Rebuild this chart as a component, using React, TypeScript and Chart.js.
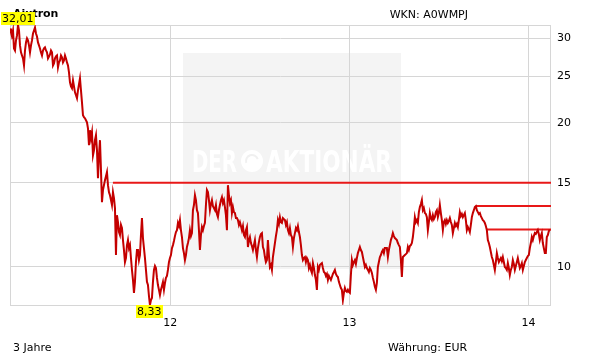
import React, { useEffect, useRef } from "react";
import { Chart, registerables } from "chart.js";

Chart.register(...registerables);

// ---- texts ----
const titleText = "Aixtron";
const wknText = "WKN: A0WMPJ";
const periodText = "3 Jahre";
const currencyText = "Währung: EUR";
const watermarkLeft = "DER";
const watermarkRight = "AKTIONÄR";

// ---- time base (one sample every ~2 calendar days) ----
const startDate = "2011-02-08";
const stepDays = 2.04;
const endDays = 1104;

// ---- price series (EUR) ----
const prices = [
  31.48, 30.88, 30.44, 31.18, 28.6, 28.32, 29.72, 30.44, 32.01, 31.18,
  29.02, 28.06, 27.65, 27.26, 26.36, 28.32, 29.44, 30.01, 29.72, 29.02,
  28.06, 29.02, 29.72, 30.73, 31.18, 31.63, 30.73, 30.29, 29.44, 29.02,
  28.6, 28.06, 27.65, 28.32, 28.6, 28.74, 28.32, 28.06, 27.26, 27.52,
  27.79, 28.32, 28.06, 26.36, 26.62, 27.26, 27.52, 27.65, 26.11, 26.74,
  27.0, 27.65, 27.39, 26.74, 27.0, 27.65, 27.26, 26.74, 26.36, 25.48,
  24.3, 23.83, 23.61, 24.53, 23.83, 23.16, 22.83, 22.5, 23.38, 24.06,
  24.77, 23.38, 22.07, 20.74, 20.54, 20.44, 20.25, 20.05, 19.48, 17.96,
  19.3, 18.57, 19.11, 17.11, 17.53, 18.4, 18.84, 17.53, 15.33, 17.11,
  18.4, 15.93, 13.66, 14.47, 14.82, 15.18, 15.47, 15.78, 14.82, 14.33,
  14.12, 13.79, 13.47, 14.33, 13.93, 13.27, 10.59, 12.83, 12.41, 11.83,
  11.66, 12.24, 12.06, 11.38, 10.85, 10.24, 10.44, 11.11, 11.38, 10.95,
  11.11, 10.44, 9.86, 9.4, 8.83, 9.31, 10.24, 10.85, 10.85, 10.34,
  10.59, 11.66, 12.65, 11.49, 10.95, 10.44, 9.86, 9.31, 9.17, 8.7,
  8.33, 8.53, 8.62, 9.31, 9.86, 10.05, 9.95, 9.49, 9.17, 8.96,
  8.74, 8.96, 9.13, 9.31, 8.96, 9.26, 9.49, 9.58, 9.86, 10.24,
  10.44, 10.59, 10.95, 11.11, 11.33, 11.6, 11.83, 11.94, 12.36, 12.18,
  12.53, 11.94, 11.55, 10.95, 10.69, 10.34, 10.59, 11.01, 11.22, 11.49,
  11.94, 11.6, 11.77, 13.14, 13.47, 14.12, 13.79, 13.14, 12.96, 11.94,
  10.85, 11.66, 12.12, 11.94, 12.18, 12.36, 13.47, 14.47, 14.33, 13.79,
  13.14, 13.53, 13.79, 13.4, 13.27, 13.14, 13.47, 12.9, 12.71, 13.14,
  13.47, 13.79, 13.99, 13.6, 13.79, 13.34, 12.83, 11.94, 14.82, 14.12,
  13.6, 13.79, 12.96, 13.34, 13.02, 12.96, 12.65, 12.65, 12.53, 12.24,
  12.41, 12.18, 11.94, 12.18, 11.66, 11.55, 11.94, 12.12, 11.01, 11.38,
  11.55, 11.22, 11.06, 10.85, 11.11, 11.38, 10.85, 10.49, 10.95, 11.27,
  11.55, 11.72, 11.77, 11.01, 10.85, 10.49, 10.24, 10.34, 11.38, 10.59,
  10.0, 10.1, 9.86, 10.49, 10.85, 11.22, 11.6, 11.94, 12.53, 12.3,
  12.71, 12.41, 12.36, 12.65, 12.59, 12.53, 12.24, 12.41, 11.94, 11.77,
  12.06, 11.66, 11.55, 11.01, 11.49, 11.77, 12.06, 11.94, 12.18, 11.83,
  11.55, 11.11, 10.59, 10.34, 10.44, 10.49, 10.24, 10.44, 10.34, 9.95,
  10.1, 9.86, 9.72, 10.19, 9.95, 9.62, 9.4, 8.96, 10.0, 9.86,
  10.1, 10.15, 10.19, 9.95, 9.76, 9.72, 9.58, 9.67, 9.4, 9.58,
  9.49, 9.4, 9.53, 9.67, 9.76, 9.86, 9.67, 9.58, 9.53, 9.31,
  9.17, 9.04, 8.96, 8.53, 8.83, 9.04, 8.91, 8.87, 8.96, 8.87,
  8.83, 9.62, 10.34, 10.1, 10.24, 10.34, 10.15, 10.44, 10.69, 10.85,
  11.01, 10.85, 10.75, 10.49, 10.24, 10.0, 10.1, 9.95, 9.86, 9.76,
  9.95, 9.86, 9.72, 9.49, 9.31, 9.09, 8.96, 9.26, 10.0, 10.24,
  10.49, 10.59, 10.75, 10.85, 10.69, 10.95, 10.95, 10.95, 10.49, 10.85,
  11.11, 11.38, 11.55, 11.77, 11.6, 11.49, 11.44, 11.38, 11.22, 11.11,
  11.01, 10.34, 9.53, 10.49, 10.54, 10.59, 10.64, 10.69, 11.01, 10.85,
  11.06, 11.11, 11.22, 11.55, 12.06, 12.71, 12.41, 12.53, 12.36, 13.02,
  13.34, 13.53, 13.79, 13.14, 13.27, 12.96, 12.9, 12.71, 11.94, 12.41,
  12.96, 12.65, 12.53, 12.83, 12.59, 12.71, 13.02, 13.14, 12.71, 12.96,
  13.47, 12.96, 12.53, 11.94, 12.41, 12.53, 12.3, 12.53, 12.36, 12.47,
  12.65, 12.41, 12.24, 11.77, 12.06, 12.36, 12.18, 12.3, 12.12, 12.53,
  13.02, 12.77, 12.9, 12.71, 12.83, 12.96, 12.53, 11.94, 12.12, 12.0,
  11.83, 12.24, 12.71, 12.96, 13.14, 13.34, 13.4, 13.14, 13.02, 12.9,
  12.96, 12.77, 12.65, 12.53, 12.47, 12.36, 12.18, 11.94, 11.38, 11.22,
  11.01, 10.75, 10.49, 10.34, 10.1, 9.86, 10.24, 10.69, 10.44, 10.24,
  10.34, 10.44, 10.29, 10.49, 10.24, 10.0, 9.95, 9.86, 10.19, 9.95,
  9.62, 9.86, 10.0, 10.34, 10.15, 9.86, 10.05, 10.24, 10.44, 10.19,
  9.95, 10.05, 10.19, 9.86, 10.05, 10.24, 10.34, 10.44, 10.54, 10.59,
  10.95, 11.22, 11.55, 11.38, 11.6, 11.77, 11.72, 11.83, 11.94, 11.72,
  11.38, 11.6, 11.77, 11.22, 10.95, 10.69, 10.69, 11.55, 11.66, 11.88,
  11.98,
];

// ---- axes ----
const yTicks = [10, 15, 20, 25, 30];
const yMin = 8.33;
const yMax = 32.01;
const yearStarts = ["2012-01-01", "2013-01-01", "2014-01-01"];
const yearLabels = ["12", "13", "14"];

// ---- horizontal marker lines ----
const levelValues = [15.0, 13.4, 11.98];
const levelStartDays = [210, 951, 973];

const FONT = "DejaVu Sans";
const GRID = "#d6d6d6";

const dayOf = (d: string) =>
  (Date.parse(d + "T00:00:00Z") - Date.parse(startDate + "T00:00:00Z")) / 86400000;
const yearDays = yearStarts.map(dayOf);
const fmt = (v: number) => v.toFixed(2).replace(".", ",");

const decorPlugin = {
  id: "decor",
  beforeDraw(chart: any) {
    const ctx = chart.ctx;
    ctx.save();
    ctx.fillStyle = "#ffffff";
    ctx.fillRect(0, 0, chart.width, chart.height);

    // watermark
    ctx.fillStyle = "#f4f4f4";
    ctx.fillRect(183, 53, 218, 216);
    ctx.fillStyle = "#ffffff";
    ctx.font = `bold 30px "${FONT}"`;
    ctx.textBaseline = "alphabetic";
    const drawFit = (t: string, x0: number, x1: number) => {
      const w = ctx.measureText(t).width;
      ctx.save();
      ctx.translate(x0, 172);
      ctx.scale((x1 - x0) / w, 1);
      ctx.fillText(t, 0, 0);
      ctx.restore();
    };
    drawFit(watermarkLeft, 192, 237);
    drawFit(watermarkRight, 266, 392);
    ctx.beginPath();
    ctx.arc(252, 161, 11, 0, Math.PI * 2);
    ctx.fill();
    ctx.strokeStyle = "#f0f0f0";
    ctx.lineWidth = 2;
    ctx.beginPath();
    ctx.arc(252, 161, 6, Math.PI * 0.9, Math.PI * 1.9);
    ctx.stroke();

    // texts
    ctx.fillStyle = "#000000";
    ctx.font = `bold 11px "${FONT}"`;
    ctx.textAlign = "left";
    ctx.fillText(titleText, 13, 17);
    ctx.font = `11px "${FONT}"`;
    ctx.textAlign = "right";
    ctx.fillText(wknText, 468, 18);
    ctx.textAlign = "left";
    ctx.fillText(periodText, 13, 351);
    ctx.fillText(currencyText, 388, 351);
    ctx.restore();
  },
  beforeDatasetsDraw(chart: any) {
    const { ctx, chartArea } = chart;
    ctx.save();
    ctx.strokeStyle = GRID;
    ctx.lineWidth = 1;
    ctx.strokeRect(
      Math.round(chartArea.left) + 0.5,
      Math.round(chartArea.top) + 0.5,
      Math.round(chartArea.right - chartArea.left) - 1,
      Math.round(chartArea.bottom - chartArea.top)
    );
    ctx.restore();
  },
  afterDatasetsDraw(chart: any) {
    const ctx = chart.ctx;
    const xs = chart.scales.x;
    const ys = chart.scales.y;
    let iMax = 0;
    let iMin = 0;
    prices.forEach((p, i) => {
      if (p > prices[iMax]) iMax = i;
      if (p < prices[iMin]) iMin = i;
    });
    ctx.save();
    ctx.font = `11px "${FONT}"`;
    ctx.textBaseline = "middle";
    ctx.textAlign = "left";
    const box = (i: number, above: boolean) => {
      const px = xs.getPixelForValue(i * stepDays);
      const py = ys.getPixelForValue(prices[i]);
      const t = fmt(prices[i]);
      const w = Math.ceil(ctx.measureText(t).width) + 2;
      const h = 12;
      let bx = Math.round(px - w / 2);
      if (bx < 0) bx = 0;
      const by = above ? Math.round(py) - h - 1 : Math.round(py);
      ctx.fillStyle = "#ffff00";
      ctx.fillRect(bx, by, w, h + 1);
      ctx.fillStyle = "#000000";
      ctx.fillText(t, bx + 1, by + h / 2 + 1);
    };
    box(iMax, true);
    box(iMin, false);
    ctx.restore();
  },
};

export default function App() {
  const ref = useRef<HTMLCanvasElement | null>(null);

  useEffect(() => {
    if (!ref.current) return;
    const priceData = prices.map((p, i) => ({ x: i * stepDays, y: p }));
    const levelSets = levelValues.map((v, k) => ({
      data: [
        { x: levelStartDays[k], y: v },
        { x: endDays, y: v },
      ],
      borderColor: "rgb(232,24,24)",
      borderWidth: 2,
      pointRadius: 0,
      tension: 0,
    }));
    const chart = new Chart(ref.current, {
      type: "line",
      data: {
        datasets: [
          {
            data: priceData,
            borderColor: "#c40000",
            borderWidth: 2,
            pointRadius: 0,
            tension: 0,
          },
          ...levelSets,
        ],
      },
      options: {
        responsive: false,
        devicePixelRatio: 1,
        animation: false,
        events: [],
        layout: { padding: { left: 10, top: 25, right: 0, bottom: 0 } },
        plugins: { legend: { display: false }, tooltip: { enabled: false } },
        scales: {
          x: {
            type: "linear",
            min: 0,
            max: endDays,
            bounds: "data",
            grid: { color: GRID, drawTicks: false, lineWidth: 1 },
            border: { display: false },
            ticks: {
              padding: 12,
              color: "#000",
              autoSkip: false,
              maxRotation: 0,
              font: { family: FONT, size: 11 },
              callback: (v: any) => {
                const k = yearDays.findIndex((d) => Math.abs(d - Number(v)) < 0.5);
                return k >= 0 ? yearLabels[k] : "";
              },
            },
            afterBuildTicks: (s: any) => {
              s.ticks = yearDays.map((d) => ({ value: d }));
            },
            afterFit: (s: any) => {
              s.height = 59;
            },
          },
          y: {
            type: "logarithmic",
            position: "right",
            min: yMin,
            max: yMax,
            bounds: "data",
            grid: { color: GRID, drawTicks: false, lineWidth: 1 },
            border: { display: false },
            ticks: {
              padding: 6,
              color: "#000",
              autoSkip: false,
              font: { family: FONT, size: 11 },
              callback: (v: any) => String(v),
            },
            afterBuildTicks: (s: any) => {
              s.ticks = yTicks.map((v) => ({ value: v }));
            },
            afterFit: (s: any) => {
              s.width = 60;
            },
          },
        },
      },
      plugins: [decorPlugin],
    } as any);
    return () => chart.destroy();
  }, []);

  return (
    <div style={{ position: "fixed", left: 0, top: 0, width: 611, height: 364, background: "#fff" }}>
      <canvas ref={ref} width={611} height={364} style={{ display: "block", width: 611, height: 364 }} />
    </div>
  );
}
